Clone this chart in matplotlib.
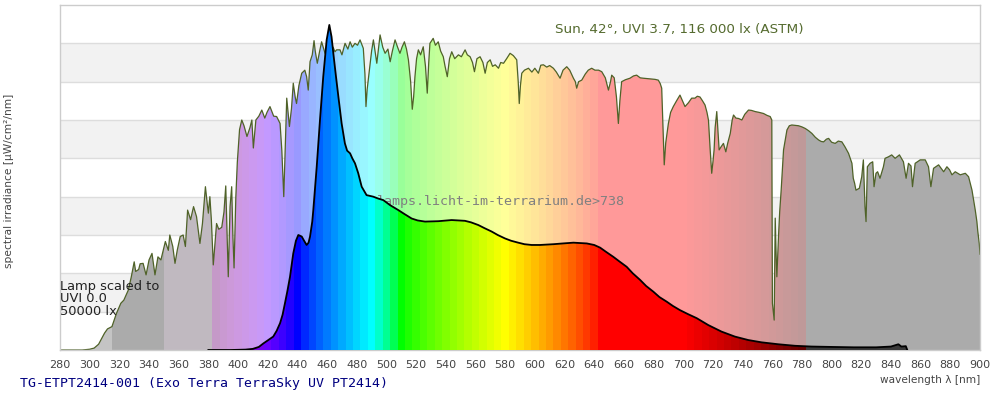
import numpy as np
import matplotlib
matplotlib.use("Agg")
import matplotlib.pyplot as plt

# sunlight reference spectrum (ASTM, 42 deg)
sun_wl = [280, 295, 300, 303, 306, 310, 312, 315, 318, 321, 323, 326, 328, 330, 331, 333, 334, 336, 338, 340,
          342, 344, 346, 348, 351, 353, 354, 356, 357.5, 359, 361, 363, 364.5, 366, 368, 370, 372, 374.3, 376, 378,
          379, 380, 381, 382, 383.3, 385.5, 387, 389, 390.5, 391.7, 392.5, 393.4, 394.6, 395.7, 396.5, 397.3, 398.5, 399.5, 401, 402.5,
          404, 406, 408, 409.3, 410.3, 412, 414, 416, 418, 419.5, 421.5, 424, 426, 428.3, 429.5, 430.8, 432, 432.8, 434.6, 436,
          437.2, 438.5, 439.4, 441, 442.9, 445, 446.2, 447.3, 448.5, 450, 451.2, 452, 453.4, 455, 456.3, 458.6, 460, 462, 464, 465.3,
          466.4, 468.7, 470, 472.1, 474, 475.5, 477, 478.8, 480.5, 482.2, 484.4, 485.5, 486.2, 487, 488.5, 490, 491.2, 492.5, 493.5, 495.7,
          497.5, 499.1, 501, 502.5, 504, 505.8, 507.5, 509.1, 510.5, 512.1, 513.5, 514.8, 516.3, 517.4, 518.3, 519.2, 520.3, 521.5, 523, 524.8,
          526.3, 527.5, 528.5, 529.3, 531.5, 533, 534.9, 536.5, 538.3, 539.5, 541, 542.5, 544, 546, 548.5, 550.5, 553, 554.5, 556.4, 558,
          559.3, 561, 563.1, 565, 566.5, 568, 569.9, 571.5, 573.3, 575.5, 577, 578.9, 581, 583.3, 585.5, 587.8, 588.8, 589.5, 590.3, 591.2,
          593, 595.7, 598, 600, 602.4, 604, 605.8, 608, 610, 612.5, 614.5, 617, 619, 621.5, 623.5, 626, 627.3, 628.2, 629.5, 631.6,
          634, 636, 638.3, 640.5, 643, 645.1, 647.5, 649.6, 651, 651.8, 653.5, 655, 656.3, 657.3, 658.5, 661, 664.1, 666.5, 668.6, 671,
          673.1, 676, 679, 681, 683.2, 684.5, 685.5, 686.4, 687.2, 688.2, 690, 691.5, 693.3, 695.5, 697.8, 699.5, 701.2, 703.5, 705.7, 707.9,
          709.5, 711.3, 713, 714.7, 716, 717, 718.2, 719.2, 720, 720.8, 721.5, 722.6, 723.4, 724.2, 725.5, 727.1, 728.7, 730, 731.7, 733,
          733.9, 735.5, 737.3, 739.5, 741.5, 744, 746, 748.5, 751, 754.1, 756.5, 758.6, 759.7, 760.1, 761.3, 762, 762.6, 763.1, 764.2, 765,
          766, 767.6, 769.9, 771.5, 773.2, 775.5, 777.7, 780, 782.2, 784.5, 786.7, 789, 791.2, 793, 794.6, 796.5, 798, 800, 802.4, 804.5,
          806.9, 809, 811.4, 813.7, 814.6, 815.5, 816.4, 818.7, 820.3, 821.4, 822.5, 823.2, 824.1, 825.9, 827.7, 828.6, 829.9, 831, 832.6, 834.9,
          836, 838.3, 840.5, 842.8, 845.7, 848.4, 850.2, 851.8, 853.5, 854.5, 856.3, 859.7, 863.1, 865.3, 866.9, 868.7, 872.1, 875.5, 877.7, 879.5,
          881.1, 883.3, 886.7, 890.1, 892.3, 894.6, 896.8, 897.9, 898.5, 899.5, 900]
sun_val = [0, 0, 0.02, 0.05, 0.15, 0.44, 0.55, 0.61, 0.95, 1.22, 1.3, 1.56, 1.9, 2.3, 2.05, 2.1, 2.25, 2.26, 1.96, 2.35,
           2.52, 1.96, 2.43, 2.35, 2.83, 2.6, 3.0, 2.7, 2.26, 2.6, 2.96, 3.0, 2.7, 3.65, 3.4, 3.74, 3.48, 2.78, 3.3, 4.26,
           3.9, 3.57, 4.0, 3.4, 2.22, 3.3, 3.15, 3.2, 3.6, 4.28, 3.2, 1.91, 3.74, 4.26, 3.0, 2.14, 4.0, 4.9, 5.75, 6.0,
           5.85, 5.57, 5.8, 6.0, 5.27, 6.0, 6.1, 6.26, 6.05, 6.2, 6.35, 6.1, 6.09, 5.91, 5.2, 4.0, 5.5, 6.57, 5.83, 6.3,
           6.96, 6.6, 6.43, 6.9, 7.22, 7.3, 7.13, 6.78, 7.52, 7.7, 8.07, 7.8, 7.48, 7.8, 8.04, 7.74, 7.9, 7.74, 7.9, 7.78,
           7.83, 7.83, 7.7, 8.0, 7.85, 8.04, 7.9, 8.0, 7.95, 8.09, 7.87, 7.2, 6.35, 6.8, 7.3, 7.8, 8.09, 7.75, 7.48, 8.22,
           7.9, 7.74, 7.85, 7.52, 7.8, 8.09, 7.9, 7.74, 7.9, 8.04, 7.85, 7.57, 7.0, 6.28, 6.6, 7.13, 7.6, 7.83, 7.7, 7.91,
           7.4, 6.7, 7.5, 8.0, 8.13, 7.95, 8.04, 7.8, 7.65, 7.4, 7.13, 7.6, 7.78, 7.6, 7.7, 7.65, 7.83, 7.7, 7.65, 7.5,
           7.26, 7.6, 7.65, 7.5, 7.22, 7.5, 7.57, 7.4, 7.44, 7.35, 7.5, 7.48, 7.6, 7.74, 7.68, 7.57, 7.0, 6.43, 6.9, 7.22,
           7.3, 7.35, 7.25, 7.35, 7.22, 7.43, 7.44, 7.38, 7.42, 7.35, 7.25, 7.09, 7.3, 7.39, 7.3, 7.09, 7.0, 6.83, 7.0, 7.04,
           7.2, 7.3, 7.35, 7.3, 7.3, 7.26, 7.1, 6.78, 7.0, 7.17, 7.1, 6.6, 5.91, 6.5, 7.0, 7.05, 7.09, 7.15, 7.17, 7.1,
           7.09, 7.08, 7.07, 7.06, 7.04, 6.95, 6.83, 5.8, 4.83, 5.4, 5.91, 6.2, 6.35, 6.5, 6.65, 6.5, 6.35, 6.45, 6.57, 6.57,
           6.62, 6.6, 6.5, 6.39, 6.2, 6.0, 5.2, 4.61, 4.9, 5.22, 5.8, 6.22, 5.7, 5.22, 5.3, 5.39, 5.17, 5.4, 5.65, 6.0,
           6.13, 6.05, 6.04, 6.0, 6.15, 6.26, 6.25, 6.22, 6.2, 6.17, 6.12, 6.09, 6.0, 1.22, 0.78, 3.44, 2.5, 1.91, 2.96, 3.6,
           4.17, 5.22, 5.74, 5.85, 5.87, 5.86, 5.85, 5.82, 5.78, 5.72, 5.65, 5.55, 5.48, 5.44, 5.43, 5.5, 5.52, 5.42, 5.39, 5.45,
           5.43, 5.3, 5.13, 4.87, 4.48, 4.35, 4.17, 4.22, 4.52, 4.96, 3.74, 3.35, 4.78, 4.87, 4.91, 4.26, 4.61, 4.65, 4.48, 4.78,
           5.0, 5.04, 5.09, 5.0, 5.09, 4.91, 4.48, 4.87, 4.8, 4.26, 4.87, 4.96, 4.96, 4.78, 4.26, 4.74, 4.83, 4.65, 4.78, 4.7,
           4.57, 4.65, 4.57, 4.61, 4.52, 4.17, 3.65, 3.35, 3.1, 2.78, 2.5]

# lamp spectrum (Exo Terra TerraSky UV), scaled to 50000 lx
lamp_wl = [380, 395, 405, 410, 414, 417, 420, 423.7, 426, 428.3, 430, 431.6, 433.3, 435, 437.2, 439, 440.6, 442.9, 444.5, 446.2,
           447.5, 448.5, 450, 450.7, 453, 455.2, 457.4, 459.7, 461.5, 463, 464.2, 466, 467.6, 469.8, 472, 473.5, 475.5, 477, 478.8, 481,
           483.3, 486.6, 491.1, 494.5, 497.9, 502.4, 508, 512, 517, 521, 526, 534.9, 543.9, 552.9, 557, 561.9, 566, 570.9, 575, 579.9,
           584, 588.8, 593, 597.8, 603.5, 612.5, 619, 626, 635, 640, 644, 648, 652.9, 657, 661.9, 666, 670.9, 675, 679.9, 684,
           688.9, 693, 697.8, 703, 709.1, 716.9, 725.8, 734.8, 743.8, 752.8, 764, 775.3, 786.5, 800, 815, 830, 840, 845, 847, 850, 851]
lamp_val = [0.0, 0.0, 0.01, 0.03, 0.08, 0.17, 0.25, 0.35, 0.5, 0.7, 0.92, 1.22, 1.55, 1.91, 2.52, 2.85, 3.0, 2.96, 2.85, 2.74,
            2.8, 2.96, 3.35, 3.65, 4.78, 6.0, 7.13, 8.09, 8.48, 8.17, 7.74, 7.13, 6.61, 5.91, 5.39, 5.2, 5.13, 5.0, 4.87, 4.61,
            4.26, 4.04, 4.0, 3.95, 3.91, 3.78, 3.65, 3.55, 3.43, 3.38, 3.35, 3.36, 3.39, 3.37, 3.33, 3.26, 3.18, 3.09, 3.0, 2.91,
            2.85, 2.8, 2.76, 2.74, 2.74, 2.76, 2.78, 2.8, 2.78, 2.74, 2.67, 2.56, 2.43, 2.31, 2.17, 2.0, 1.83, 1.67, 1.52, 1.38,
            1.26, 1.15, 1.04, 0.94, 0.83, 0.65, 0.48, 0.35, 0.26, 0.2, 0.15, 0.11, 0.09, 0.08, 0.07, 0.07, 0.09, 0.15, 0.09, 0.1, 0.0]

xticks = list(range(280, 901, 20))
sun_label = "Sun, 42°, UVI 3.7, 116 000 lx (ASTM)"
lamp_label = "Lamp scaled to\nUVI 0.0\n50000 lx"
watermark = "lamps.licht-im-terrarium.de>738"
title = "TG-ETPT2414-001 (Exo Terra TerraSky UV PT2414)"


def spectral_rgb(wl):
    # classic wavelength -> rgb approximation, 5 nm steps
    wl = np.floor((wl - 382.5) / 5) * 5 + 385
    r = np.zeros_like(wl); g = np.zeros_like(wl); b = np.zeros_like(wl)
    m = wl < 440; r[m] = (440 - wl[m]) / 60; b[m] = 1
    m = (wl >= 440) & (wl < 490); g[m] = (wl[m] - 440) / 50; b[m] = 1
    m = (wl >= 490) & (wl < 510); g[m] = 1; b[m] = (510 - wl[m]) / 20
    m = (wl >= 510) & (wl < 580); r[m] = (wl[m] - 510) / 70; g[m] = 1
    m = (wl >= 580) & (wl < 645); r[m] = 1; g[m] = (645 - wl[m]) / 65
    m = wl >= 645; r[m] = 1
    f = np.ones_like(wl)
    m = wl < 420; f[m] = 0.3 + 0.7 * (wl[m] - 380) / 40
    m = wl > 700; f[m] = 0.3 + 0.7 * (780 - wl[m]) / 80
    f = np.clip(f, 0.3, 1)
    rgb = np.stack([r, g, b], axis=-1)
    return np.clip((rgb * f[:, None]) ** 0.8, 0, 1)


grid = np.arange(280, 900, 0.25) + 0.125
lamp_rgb = spectral_rgb(grid)
sun_rgb = 0.4 * lamp_rgb + 0.6
sun_rgb[grid < 382.5] = np.array([0xc0, 0xb9, 0xc0]) / 255
sun_rgb[grid < 350] = np.array([0xab, 0xab, 0xab]) / 255
sun_rgb[grid < 315] = np.array([0xc4, 0xc4, 0xc4]) / 255
sun_rgb[grid >= 782.5] = np.array([0xab, 0xab, 0xab]) / 255
lamp_rgb[grid >= 782.5] = np.array([0x3a, 0x3a, 0x3a]) / 255

fig = plt.figure(figsize=(10, 4), dpi=100)
ax = fig.add_axes([0.06, 0.125, 0.92, 0.8625])
ax.set_xlim(280, 900)
ax.set_ylim(0, 9)

# background bands
for k in range(9):
    if k % 2 == 1:
        ax.axhspan(k, k + 1, color='#f2f2f2', lw=0, zorder=0)
    if k > 0:
        ax.axhline(k, color='#dddddd', lw=1, zorder=0.5)

# sun: pastel spectral fill clipped to the curve
sun_poly = ax.fill_between(sun_wl, sun_val, color='none', lw=0)
im = ax.imshow(sun_rgb[None, :, :], extent=[280, 900, 0, 9], aspect='auto',
               interpolation='nearest', zorder=1)
im.set_clip_path(sun_poly.get_paths()[0], transform=ax.transData)
ax.plot(sun_wl, sun_val, color='#4f6228', lw=0.9, zorder=2)

ax.text(0.479, 0.43, watermark, transform=ax.transAxes, ha='center', va='center',
        family='DejaVu Sans Mono', fontsize=9.6, color='#808080', zorder=2.5)

# lamp: saturated spectral fill
lamp_poly = ax.fill_between(lamp_wl, lamp_val, color='none', lw=0)
im2 = ax.imshow(lamp_rgb[None, :, :], extent=[280, 900, 0, 9], aspect='auto',
                interpolation='nearest', zorder=3)
im2.set_clip_path(lamp_poly.get_paths()[0], transform=ax.transData)
ax.plot(lamp_wl, lamp_val, color='black', lw=1.3, zorder=4)
ax.set_xlim(280, 900)
ax.set_ylim(0, 9)

ax.text(0.673, 0.930, sun_label, transform=ax.transAxes, ha='center', va='center',
        fontsize=9.7, color='#556b2f', zorder=5)
ax.text(0.0, 0.148, lamp_label, transform=ax.transAxes, ha='left', va='center',
        fontsize=9.4, color='#222222', linespacing=0.98, zorder=5)

ax.set_xticks(xticks)
ax.set_xticklabels([str(t) for t in xticks])
ax.set_yticks([])
ax.tick_params(axis='x', length=0, pad=7, labelsize=8, labelcolor='#444444')
for s in ax.spines.values():
    s.set_color('#cccccc')
    s.set_linewidth(1)

fig.text(0.009, 1 - 181 / 400, "spectral irradiance [µW/cm²/nm]", rotation=90,
         ha='center', va='center', fontsize=7.7, color='#444444')
fig.text(0.98, 1 - 380 / 400, "wavelength λ [nm]", ha='right', va='center',
         fontsize=7.6, color='#444444')
fig.text(0.02, 1 - 384 / 400, title, ha='left', va='center',
         family='DejaVu Sans Mono', fontsize=9.5, color='#000080')

fig.savefig("out.png", dpi=100)
